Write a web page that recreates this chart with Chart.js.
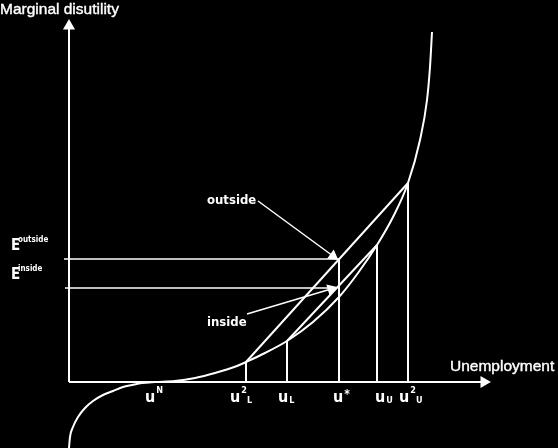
<!DOCTYPE html>
<html>
<head>
<meta charset="utf-8">
<script src="https://cdn.jsdelivr.net/npm/chart.js@4"></script>
<style>
  html, body { margin: 0; padding: 0; background: #000; }
  #wrap { width: 558px; height: 448px; }
</style>
</head>
<body>
<div id="wrap"><canvas id="chart" width="558" height="448"></canvas></div>
<script>
// marginal disutility curve
const curveU  = [0, 1, 4, 9, 16, 24, 34, 44, 54, 63, 73, 86, 106, 126, 146, 168, 177, 196, 218, 244, 270, 289, 308, 324, 339, 351, 358, 361, 363];
const curveMD = [-66, -55, -45, -35, -26, -19, -13, -9, -5, -3, -1, 0, 1, 4, 9, 16, 20, 29, 41, 60, 85, 109, 137, 165, 199, 242, 282, 315, 350];

// points on the unemployment axis and how high their drop lines go
const tickU   = [86, 177, 218, 270, 308, 339];
const tickTop = [0, 20, 41, 123, 137, 199];
const tickMain = ['u', 'u', 'u', 'u', 'u', 'u'];
const tickSup  = ['N', '2', '', '*', '', '2'];
const tickSub  = ['', 'L', 'L', '', 'U', 'U'];
const tickLabelU = [76, 161, 209, 264, 306, 330];

// chords
const outsideU = [177, 339], outsideMD = [20, 199];
const insideU  = [218, 308], insideMD  = [41, 137];

// expected disutility levels
const eLevels = [123, 94];
const eNames  = ['outside', 'inside'];

// axis extent
const axisMaxU = 415, axisMaxMD = 356;

const white = '#ffffff';

function seg(xs, ys, width, extra) {
  return Object.assign({
    data: xs.map((x, i) => ({ x: x, y: ys[i] })),
    borderColor: white,
    backgroundColor: white,
    borderWidth: width,
    pointRadius: 0,
    tension: 0
  }, extra || {});
}

const datasets = [];
// axes with arrow heads
datasets.push(seg([0, 0], [0, axisMaxMD], 2, { pointRadius: [0, 5], pointStyle: 'triangle', pointRotation: 0 }));
datasets.push(seg([0, axisMaxU], [0, 0], 2, { pointRadius: [0, 5], pointStyle: 'triangle', pointRotation: 90 }));
// curve
datasets.push(seg(curveU, curveMD, 2, { cubicInterpolationMode: 'monotone' }));
// drop lines
tickU.forEach((u, i) => {
  if (tickTop[i] > 0) datasets.push(seg([u, u], [0, tickTop[i]], 2));
});
// chords
datasets.push(seg(outsideU, outsideMD, 2));
datasets.push(seg(insideU, insideMD, 2));
// E levels
datasets.push(seg([-5, tickU[3]], [eLevels[0], eLevels[0]], 1.5));
datasets.push(seg([-4, 262], [eLevels[1], eLevels[1]], 1.5));
// annotation arrows
datasets.push(seg([189, 264], [181, 126], 1.5, { pointRadius: [0, 5], pointStyle: 'triangle', pointRotation: 126 }));
datasets.push(seg([178, 262], [68, 93], 1.5, { pointRadius: [0, 5], pointStyle: 'triangle', pointRotation: 73 }));

const condensed = '"DejaVu Sans Condensed", "DejaVu Sans", sans-serif';

const textPlugin = {
  id: 'texts',
  afterDatasetsDraw(chart) {
    const ctx = chart.ctx;
    const xs = chart.scales.x, ys = chart.scales.y;
    const px = v => xs.getPixelForValue(v);
    const py = v => ys.getPixelForValue(v);
    ctx.save();
    ctx.fillStyle = white;
    ctx.strokeStyle = white;
    ctx.lineWidth = 0.4;
    ctx.textBaseline = 'alphabetic';
    ctx.textAlign = 'left';

    ctx.font = '15.5px "Liberation Sans", Arial, sans-serif';
    ctx.fillText('Marginal disutility', px(-69), py(368));
    ctx.strokeText('Marginal disutility', px(-69), py(368));
    ctx.fillText('Unemployment', px(381), py(11));
    ctx.strokeText('Unemployment', px(381), py(11));

    ctx.font = 'bold 13px ' + condensed;
    ctx.fillText('outside', px(138), py(178));
    ctx.fillText('inside', px(138), py(56));

    // E labels
    eNames.forEach((n, i) => {
      const base = py(eLevels[i] + 9);
      ctx.font = 'bold 15px ' + condensed;
      ctx.fillText('E', px(-58), base);
      ctx.font = 'bold 8px ' + condensed;
      ctx.fillText(n, px(-51), base - 8);
    });

    // labels under the axis
    tickU.forEach((u, i) => {
      let x = px(tickLabelU[i]);
      const base = py(-20);
      ctx.font = 'bold 16px ' + condensed;
      ctx.fillText(tickMain[i], x, base);
      x += ctx.measureText(tickMain[i]).width + 1;
      ctx.font = 'bold 9px ' + condensed;
      let w = 0;
      if (tickSup[i]) {
        ctx.font = (tickSup[i] === '*' ? 'bold 12px ' : 'bold 9px ') + condensed;
        ctx.fillText(tickSup[i], x, base - (tickSup[i] === '*' ? 4 : 9));
        w = ctx.measureText(tickSup[i]).width;
      }
      if (tickSub[i]) {
        ctx.font = 'bold 9px ' + condensed;
        ctx.fillText(tickSub[i], x + (tickSup[i] ? w : 0), base + 1);
      }
    });
    ctx.restore();
  }
};

new Chart(document.getElementById('chart'), {
  type: 'line',
  data: { datasets: datasets },
  options: {
    responsive: false,
    animation: false,
    devicePixelRatio: 1,
    layout: { padding: 0, autoPadding: false },
    plugins: { legend: { display: false }, tooltip: { enabled: false } },
    scales: {
      x: { type: 'linear', min: -69, max: 489, display: false },
      y: { type: 'linear', min: -66, max: 382, display: false }
    }
  },
  plugins: [textPlugin]
});
</script>
</body>
</html>
